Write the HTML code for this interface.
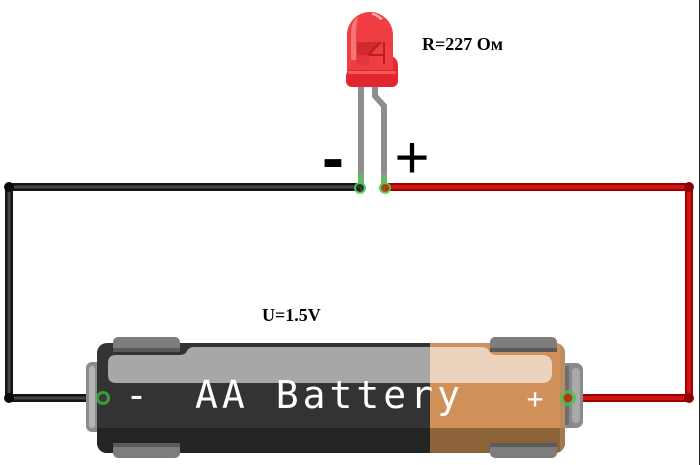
<!DOCTYPE html>
<html><head><meta charset="utf-8"><style>
html,body{margin:0;padding:0;background:#fff;}
svg{display:block;}
</style></head><body>
<svg width="700" height="465" viewBox="0 0 700 465" xmlns="http://www.w3.org/2000/svg">
<rect width="700" height="465" fill="#fff"/>
<line x1="699.5" y1="0" x2="699.5" y2="465" stroke="#222" stroke-width="1"/>

<!-- black wire -->
<path d="M360,187 H9 V398 H103" fill="none" stroke="#141414" stroke-width="8" stroke-linejoin="round"/>
<path d="M360,187 H9 V398 H103" fill="none" stroke="#454545" stroke-width="3" stroke-linejoin="round"/>
<circle cx="9" cy="187" r="5" fill="#0a0a0a"/>
<circle cx="9" cy="398" r="5" fill="#0a0a0a"/>

<!-- red wire -->
<path d="M385,187 H689 V398 H568" fill="none" stroke="#9e0000" stroke-width="8" stroke-linejoin="round"/>
<path d="M385,187 H689 V398 H568" fill="none" stroke="#d01414" stroke-width="4" stroke-linejoin="round"/>
<circle cx="689" cy="187" r="5" fill="#8e0000"/>
<circle cx="689" cy="398" r="5" fill="#8e0000"/>

<!-- LED legs -->
<line x1="361" y1="80" x2="361" y2="188" stroke="#8e8e8e" stroke-width="6"/>
<polyline points="375,80 375,96 384,106 384,188" fill="none" stroke="#8e8e8e" stroke-width="6"/>
<rect x="358" y="174" width="6" height="14" fill="#5cc25c" opacity="0.7"/>
<rect x="381" y="174" width="6" height="14" fill="#5cc25c" opacity="0.7"/>
<circle cx="360" cy="188" r="5" fill="#2a2a2a" stroke="#4cd04c" stroke-width="2" opacity="0.9"/>
<circle cx="385" cy="188" r="5" fill="#a83a10" stroke="#4cd04c" stroke-width="2" opacity="0.9"/>

<!-- LED body -->
<path d="M391,56 Q398,58 398,66 V80 H391 Z" fill="#e42a31"/>
<path d="M347,80 V35 A23,23 0 0 1 393,35 V80 Z" fill="#ef3d43"/>
<rect x="346" y="70" width="52" height="17" rx="6" fill="#e3262d"/>
<rect x="348" y="71" width="48" height="3" rx="1.5" fill="#f15a5f"/>
<!-- inner anvil -->
<rect x="357" y="42" width="15" height="13" fill="#c9272c" opacity="0.85"/>
<polygon points="372,42 381,42 370,55 372,55" fill="#c9272c" opacity="0.85"/>
<line x1="381" y1="42" x2="368" y2="55" stroke="#b81f24" stroke-width="2"/>
<line x1="384" y1="42" x2="384" y2="64" stroke="#b81f24" stroke-width="2"/>
<line x1="368" y1="55" x2="384" y2="55" stroke="#b81f24" stroke-width="2"/>
<rect x="357" y="55" width="12" height="10" fill="#d8343a" opacity="0.7"/>
<!-- highlights -->
<path d="M351,60 V32 Q351,22 358,17 L356,30 V60 Z" fill="#f98a8d" opacity="0.7"/>
<path d="M372,13 Q379,14 383,19 L380,20 Q377,16 372,15 Z" fill="#fbb0b2"/>

<!-- signs near LED -->
<text x="322" y="180" font-family="Liberation Sans, sans-serif" font-weight="bold" font-size="66" fill="#000">-</text>
<text x="412" y="178" text-anchor="middle" font-family="Liberation Sans, sans-serif" font-size="60" fill="#000">+</text>

<!-- labels -->
<text x="422" y="50" font-family="Liberation Serif, serif" font-weight="bold" font-size="18" fill="#000">R=227 Ом</text>
<text x="262" y="321" font-family="Liberation Serif, serif" font-weight="bold" font-size="18" fill="#000">U=1.5V</text>

<!-- battery end caps -->
<rect x="86" y="362" width="16" height="70" rx="6" fill="#8c8c8c"/>
<rect x="89" y="366" width="6" height="62" rx="3" fill="#b4b4b4"/>
<rect x="558" y="363" width="25" height="65" rx="7" fill="#8a8a8a"/>
<rect x="572" y="368" width="8" height="55" rx="4" fill="#a9a9a9"/>
<rect x="563" y="366" width="6" height="59" fill="#6e6e6e"/>

<!-- battery body -->
<defs>
<clipPath id="bc"><rect x="97" y="343" width="468" height="110" rx="10"/></clipPath>
</defs>
<g clip-path="url(#bc)">
<rect x="97" y="343" width="468" height="110" fill="#333333"/>
<rect x="430" y="343" width="135" height="110" fill="#cf9159"/>
<rect x="97" y="428" width="333" height="25" fill="#242424"/>
<rect x="430" y="428" width="135" height="25" fill="#8c6239"/>
<path d="M116,355 H180 Q185,355 187,351 Q189,347 194,347 H430 V383 H116 Q108,383 108,375 V363 Q108,355 116,355 Z" fill="#a7a7a7"/>
<path d="M430,347 H482 Q487,347 489,351 Q491,355 496,355 H542 Q552,355 552,365 V373 Q552,383 542,383 H430 Z" fill="#ecd3bd"/>
<rect x="560" y="343" width="5" height="110" fill="#b08a68" opacity="0.6"/>
</g>

<!-- tabs -->
<rect x="113" y="337" width="67" height="15" rx="5" fill="#7d7d7d"/>
<rect x="113" y="348" width="67" height="4" fill="#5a5a5a"/>
<rect x="113" y="443" width="67" height="15" rx="5" fill="#7d7d7d"/>
<rect x="113" y="443" width="67" height="4" fill="#5a5a5a"/>
<rect x="490" y="337" width="67" height="15" rx="5" fill="#7d7d7d"/>
<rect x="490" y="348" width="67" height="4" fill="#5a5a5a"/>
<rect x="490" y="443" width="67" height="15" rx="5" fill="#7d7d7d"/>
<rect x="490" y="443" width="67" height="4" fill="#5a5a5a"/>

<!-- battery text -->
<text x="125" y="408" font-family="DejaVu Sans Mono, monospace" font-size="38" fill="#fff">-</text>
<text x="195" y="408" font-family="DejaVu Sans Mono, monospace" font-size="38" fill="#fff" textLength="265" lengthAdjust="spacing">AA Battery</text>
<text x="535" y="408" text-anchor="middle" font-family="DejaVu Sans Mono, monospace" font-size="28" fill="#fff">+</text>

<!-- battery terminal connection points -->
<circle cx="103" cy="398" r="7" fill="#3fbf3f" opacity="0.75"/>
<circle cx="103" cy="398" r="4" fill="#3a3a3a"/>
<circle cx="568" cy="398" r="8" fill="#4cc04c" opacity="0.75"/>
<circle cx="568" cy="398" r="4.5" fill="#b03a10"/>
</svg>
</body></html>
